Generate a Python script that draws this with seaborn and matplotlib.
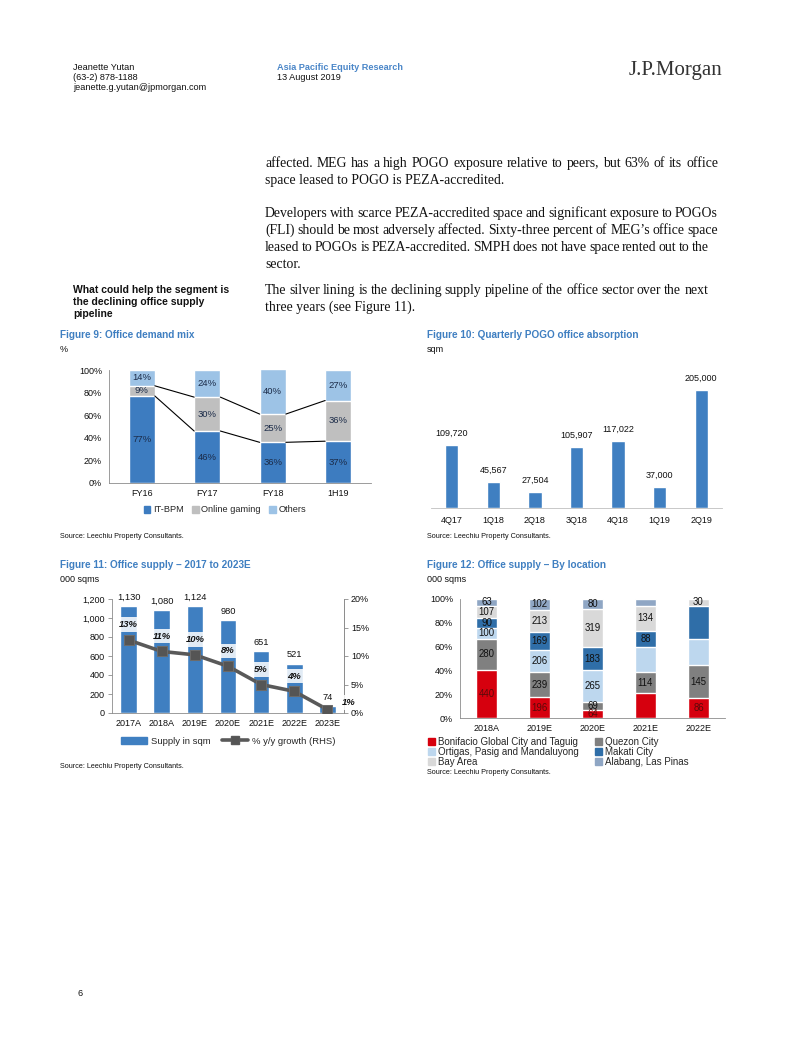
import numpy as np
import matplotlib
matplotlib.use("Agg")
import matplotlib.pyplot as plt
import seaborn as sns
from matplotlib.patches import Patch
from matplotlib.lines import Line2D
from matplotlib.ticker import FuncFormatter, FixedLocator

# ---------------- data ----------------
# Figure 9: Office demand mix (%)
mix_periods = ["FY16", "FY17", "FY18", "1H19"]
mix_itbpm = [77, 46, 36, 37]
mix_gaming = [9, 30, 25, 36]
mix_others = [14, 24, 40, 27]
mix_series = ["IT-BPM", "Online gaming", "Others"]

# Figure 10: Quarterly POGO office absorption (sqm)
pogo_quarters = ["4Q17", "1Q18", "2Q18", "3Q18", "4Q18", "1Q19", "2Q19"]
pogo_sqm = [109720, 45567, 27504, 105907, 117022, 37000, 205000]

# Figure 11: Office supply 2017 to 2023E (000 sqms) and % y/y growth
supply_years = ["2017A", "2018A", "2019E", "2020E", "2021E", "2022E", "2023E"]
supply_sqm = [1130, 1080, 1124, 980, 651, 521, 74]
supply_growth = [12.8, 10.8, 10.2, 8.2, 5.0, 3.8, 0.6]
supply_growth_labels = ["13%", "11%", "10%", "8%", "5%", "4%", "1%"]

# Figure 12: Office supply by location (000 sqms)
loc_years = ["2018A", "2019E", "2020E", "2021E", "2022E"]
loc_names = ["Bonifacio Global City and Taguig", "Quezon City",
             "Ortigas, Pasig and Mandaluyong", "Makati City",
             "Bay Area", "Alabang, Las Pinas"]
loc_bgc = [440, 196, 64, 135, 86]
loc_quezon = [280, 239, 69, 114, 145]
loc_ortigas = [100, 206, 265, 141, 113]
loc_makati = [90, 169, 183, 88, 146]
loc_bay = [107, 213, 319, 134, 30]
loc_alabang = [63, 102, 80, 39, 0]
# which segment values are printed on the original chart
loc_shown = [[1, 1, 1, 0, 1], [1, 1, 1, 1, 1], [1, 1, 1, 0, 0],
             [1, 1, 1, 1, 0], [1, 1, 1, 1, 1], [1, 1, 1, 0, 0]]

# ---------------- style ----------------
sns.set_theme(style="white")
plt.rcParams["font.family"] = ["Liberation Sans", "DejaVu Sans"]
plt.rcParams["axes.linewidth"] = 0.6

W, H = 802, 1037
fig = plt.figure(figsize=(W / 100, H / 100), dpi=100)
fig.patch.set_facecolor("white")


def box(x0, y0, x1, y1):
    return [x0 / W, 1 - y1 / H, (x1 - x0) / W, (y1 - y0) / H]


def fx(x):
    return x / W


def fy(y):
    return 1 - y / H


TITLE_C = "#3f7fc1"
BAR_C = "#3f7fc1"
SPINE_C = "#8c8c8c"
FS = 6.5
SERIF = ["Liberation Serif", "DejaVu Serif"]

# ---------------- page header ----------------
for i, t in enumerate(["Jeanette Yutan", "(63-2) 878-1188", "jeanette.g.yutan@jpmorgan.com"]):
    fig.text(fx(73), fy(67 + 10.5 * i), t, fontsize=6.6, va="center", ha="left", color="#111111")
fig.text(fx(277), fy(67), "Asia Pacific Equity Research", fontsize=6.6, fontweight="bold",
         color="#4a86c8", va="center")
fig.text(fx(277), fy(77.5), "13 August 2019", fontsize=6.6, va="center", color="#111111")
fig.text(fx(722), fy(71), "J.P.Morgan", fontsize=15, family=SERIF, ha="right", va="center",
         color="#333333")

# ---------------- body text ----------------
renderer = fig.canvas.get_renderer()
BODY_KW = dict(fontsize=9.9, family=SERIF, va="baseline", color="#111111")
BASE_OFF = 4.0


def body_line(y, text, right):
    yb = fy(y + BASE_OFF)
    if right is None:
        fig.text(fx(265), yb, text, **BODY_KW)
        return
    words = text.split(" ")
    objs = [fig.text(0, yb, w, **BODY_KW) for w in words]
    widths = [o.get_window_extent(renderer).width for o in objs]
    gap = (right - 265 - sum(widths)) / (len(words) - 1)
    x = 265
    for o, w in zip(objs, widths):
        o.set_x(fx(x))
        x += w + gap


body = [
    (163, "affected. MEG has a high POGO exposure relative to peers, but 63% of its office", 718),
    (180, "space leased to POGO is PEZA-accredited.", None),
    (213, "Developers with scarce PEZA-accredited space and significant exposure to POGOs", 718),
    (230, "(FLI) should be most adversely affected. Sixty-three percent of MEG\u2019s office space", 718),
    (247, "leased to POGOs is PEZA-accredited. SMPH does not have space rented out to the", 709),
    (264, "sector.", None),
    (290, "The silver lining is the declining supply pipeline of the office sector over the next", 708),
    (307, "three years (see Figure 11).", None),
]
for y, t, r in body:
    body_line(y, t, r)

for i, t in enumerate(["What could help the segment is", "the declining office supply", "pipeline"]):
    fig.text(fx(73), fy(290 + 12 * i), t, fontsize=7.5, fontweight="bold", va="center",
             color="#111111")

fig.text(fx(77), fy(993), "6", fontsize=6.6, va="center", color="#111111")


def titles(x, y, title, sub):
    fig.text(fx(x), fy(y), title, fontsize=7.2, fontweight="bold", color=TITLE_C, va="center")
    fig.text(fx(x), fy(y + 14), sub, fontsize=FS, va="center", color="#111111")


def source(x, y):
    fig.text(fx(x), fy(y), "Source: Leechiu Property Consultants.", fontsize=5.2, va="center",
             color="#111111")


def cat_axis(ax, n):
    ax.set_xlim(-0.5, n - 0.5)
    ax.xaxis.set_minor_locator(FixedLocator(np.arange(-0.5, n, 1.0)))
    ax.tick_params(axis="x", which="major", length=0, pad=4, labelsize=FS, colors="#111111")
    ax.tick_params(axis="x", which="minor", length=3, width=0.6, color=SPINE_C, direction="out")
    ax.set_xlabel("")
    ax.set_ylabel("")


def style_spines(ax, left=True, right=False, bottom=True):
    for s, on in [("left", left), ("right", right), ("bottom", bottom), ("top", False)]:
        ax.spines[s].set_visible(on)
        ax.spines[s].set_color(SPINE_C)
        ax.spines[s].set_linewidth(0.6)


# ---------------- Figure 9 ----------------
titles(60, 335, "Figure 9: Office demand mix", "%")
ax9 = fig.add_axes(box(109, 370, 371, 483))
C_IT, C_GAM, C_OTH = "#3d7cc0", "#bfbfbf", "#9dc3e6"
c1 = np.array(mix_itbpm, float)
c2 = c1 + np.array(mix_gaming)
c3 = c2 + np.array(mix_others)
bw9 = 0.4
for vals, col in [(c3, C_OTH), (c2, C_GAM), (c1, C_IT)]:
    sns.barplot(x=mix_periods, y=vals, color=col, width=bw9, saturation=1, errorbar=None, ax=ax9)
for cum in (c1, c2):
    for i in range(len(mix_periods) - 1):
        ax9.plot([i + bw9 / 2, i + 1 - bw9 / 2], [cum[i], cum[i + 1]], color="black", lw=0.8, zorder=5)
for i in range(len(mix_periods)):
    for bot, val in [(0, mix_itbpm[i]), (c1[i], mix_gaming[i]), (c2[i], mix_others[i])]:
        ax9.text(i, bot + val / 2, f"{val}%", ha="center", va="center", fontsize=FS + 0.3,
                 color="#1b2b48", zorder=6)
cat_axis(ax9, len(mix_periods))
ax9.set_ylim(0, 100)
ax9.set_yticks(np.arange(0, 101, 20))
ax9.yaxis.set_major_formatter(FuncFormatter(lambda v, p: f"{v:.0f}%"))
ax9.tick_params(axis="y", length=3, width=0.6, color=SPINE_C, direction="out", labelsize=FS,
                labelcolor="#111111", pad=2)
style_spines(ax9)
h9 = [Patch(color=c) for c in (C_IT, C_GAM, C_OTH)]
fig.legend(h9, mix_series, loc="center", bbox_to_anchor=(fx(225), fy(510)), ncol=3, frameon=False,
           fontsize=FS + 0.2, handlelength=0.7, handleheight=0.7, handletextpad=0.3,
           columnspacing=0.9)
source(60, 537)

# ---------------- Figure 10 ----------------
titles(427, 335, "Figure 10: Quarterly POGO office absorption", "sqm")
ax10 = fig.add_axes(box(431, 370, 722, 508))
sns.barplot(x=pogo_quarters, y=pogo_sqm, color=BAR_C, width=0.32, saturation=1, errorbar=None,
            ax=ax10)
ax10.set_ylim(0, 240000)
ax10.set_yticks([])
for i, v in enumerate(pogo_sqm):
    ax10.annotate(f"{v:,}", (i, v), xytext=(0, 5), textcoords="offset points", ha="center",
                  va="bottom", fontsize=FS, color="#111111")
cat_axis(ax10, len(pogo_quarters))
ax10.tick_params(axis="x", which="minor", length=0)
ax10.tick_params(axis="x", which="major", pad=6)
style_spines(ax10, left=False)
ax10.spines["bottom"].set_color("#bfbfbf")
source(427, 537)

# ---------------- Figure 11 ----------------
titles(60, 565, "Figure 11: Office supply \u2013 2017 to 2023E", "000 sqms")
ax11 = fig.add_axes(box(112, 599, 344, 713))
sns.barplot(x=supply_years, y=supply_sqm, color=BAR_C, width=0.5, saturation=1, errorbar=None,
            ax=ax11)
ax11.set_ylim(0, 1200)
ax11.set_yticks(np.arange(0, 1201, 200))
ax11.yaxis.set_major_formatter(FuncFormatter(lambda v, p: f"{v:,.0f}"))
ax11.tick_params(axis="y", length=3, width=0.6, color=SPINE_C, direction="out", labelsize=FS,
                 labelcolor="#111111", pad=2)
for i, v in enumerate(supply_sqm):
    ax11.annotate(f"{v:,}", (i, v), xytext=(0, 3), textcoords="offset points", ha="center",
                  va="bottom", fontsize=FS + 0.2, color="#111111")
cat_axis(ax11, len(supply_years))
style_spines(ax11, right=True)
ax11r = ax11.twinx()
LINE_C = "#595959"
sns.lineplot(x=np.arange(len(supply_years)), y=supply_growth, ax=ax11r, color=LINE_C, lw=2.6,
             marker="s", markersize=7, markeredgecolor="#6b6b6b", markerfacecolor="#555555")
ax11r.set_ylim(0, 20)
ax11r.set_yticks(np.arange(0, 21, 5))
ax11r.yaxis.set_major_formatter(FuncFormatter(lambda v, p: f"{v:.0f}%"))
ax11r.tick_params(axis="y", length=3, width=0.6, color=SPINE_C, direction="out", labelsize=FS,
                  labelcolor="#111111", pad=2)
ax11r.set_ylabel("")
ax11r.set_xlim(-0.5, len(supply_years) - 0.5)
style_spines(ax11r, left=False, right=True, bottom=False)
for i, (v, t) in enumerate(zip(supply_growth, supply_growth_labels)):
    last = i == len(supply_growth) - 1
    off = (15, 5) if last else (0, 11)
    ax11r.annotate(t, (i, v), xytext=off, textcoords="offset points", ha="center", va="center",
                   fontsize=FS + 0.3, fontweight="bold", fontstyle="italic", color="#111111",
                   bbox=dict(boxstyle="square,pad=0.3", fc="white", ec="none", alpha=0.85),
                   zorder=10)
h11 = [Patch(color=BAR_C),
       Line2D([], [], color=LINE_C, lw=2.6, marker="s", markersize=6, markerfacecolor="#555555")]
fig.legend(h11, ["Supply in sqm", "% y/y growth (RHS)"], loc="center",
           bbox_to_anchor=(fx(228), fy(741)), ncol=2, frameon=False, fontsize=FS + 0.3,
           handlelength=2.8, handleheight=0.8, handletextpad=0.4, columnspacing=1.2)
source(60, 766)

# ---------------- Figure 12 ----------------
titles(427, 565, "Figure 12: Office supply \u2013 By location", "000 sqms")
ax12 = fig.add_axes(box(460, 599, 725, 718))
loc_vals = np.array([loc_bgc, loc_quezon, loc_ortigas, loc_makati, loc_bay, loc_alabang], float)
loc_cols = ["#d6000e", "#808080", "#bdd7ee", "#2f6ea8", "#d9d9d9", "#8fa6c4"]
pct = loc_vals / loc_vals.sum(axis=0) * 100
cum = np.cumsum(pct, axis=0)
for k in range(len(loc_names) - 1, -1, -1):
    sns.barplot(x=loc_years, y=cum[k], color=loc_cols[k], width=0.38, saturation=1, errorbar=None,
                ax=ax12)
for k in range(len(loc_names)):
    for i in range(len(loc_years)):
        if loc_shown[k][i] and loc_vals[k, i] > 0:
            mid = cum[k, i] - pct[k, i] / 2
            col = "#5a0a0a" if k == 0 else "#111111"
            ax12.text(i, mid, f"{loc_vals[k, i]:.0f}", ha="center", va="center", fontsize=FS + 0.4,
                      color=col, zorder=6)
cat_axis(ax12, len(loc_years))
ax12.set_ylim(0, 100)
ax12.set_yticks(np.arange(0, 101, 20))
ax12.yaxis.set_major_formatter(FuncFormatter(lambda v, p: f"{v:.0f}%"))
ax12.tick_params(axis="y", length=3, width=0.6, color=SPINE_C, direction="out", labelsize=FS,
                 labelcolor="#111111", pad=2)
style_spines(ax12)
order = [0, 2, 4, 1, 3, 5]
h12 = [Patch(color=loc_cols[k]) for k in order]
fig.legend(h12, [loc_names[k] for k in order], loc="upper left",
           bbox_to_anchor=(fx(421), fy(730)), ncol=2, frameon=False, fontsize=7.0,
           handlelength=0.7, handleheight=0.7, handletextpad=0.3, columnspacing=1.7,
           labelspacing=0.0, borderpad=0.2)
source(427, 773)

fig.savefig("out.png", dpi=100, facecolor="white")
